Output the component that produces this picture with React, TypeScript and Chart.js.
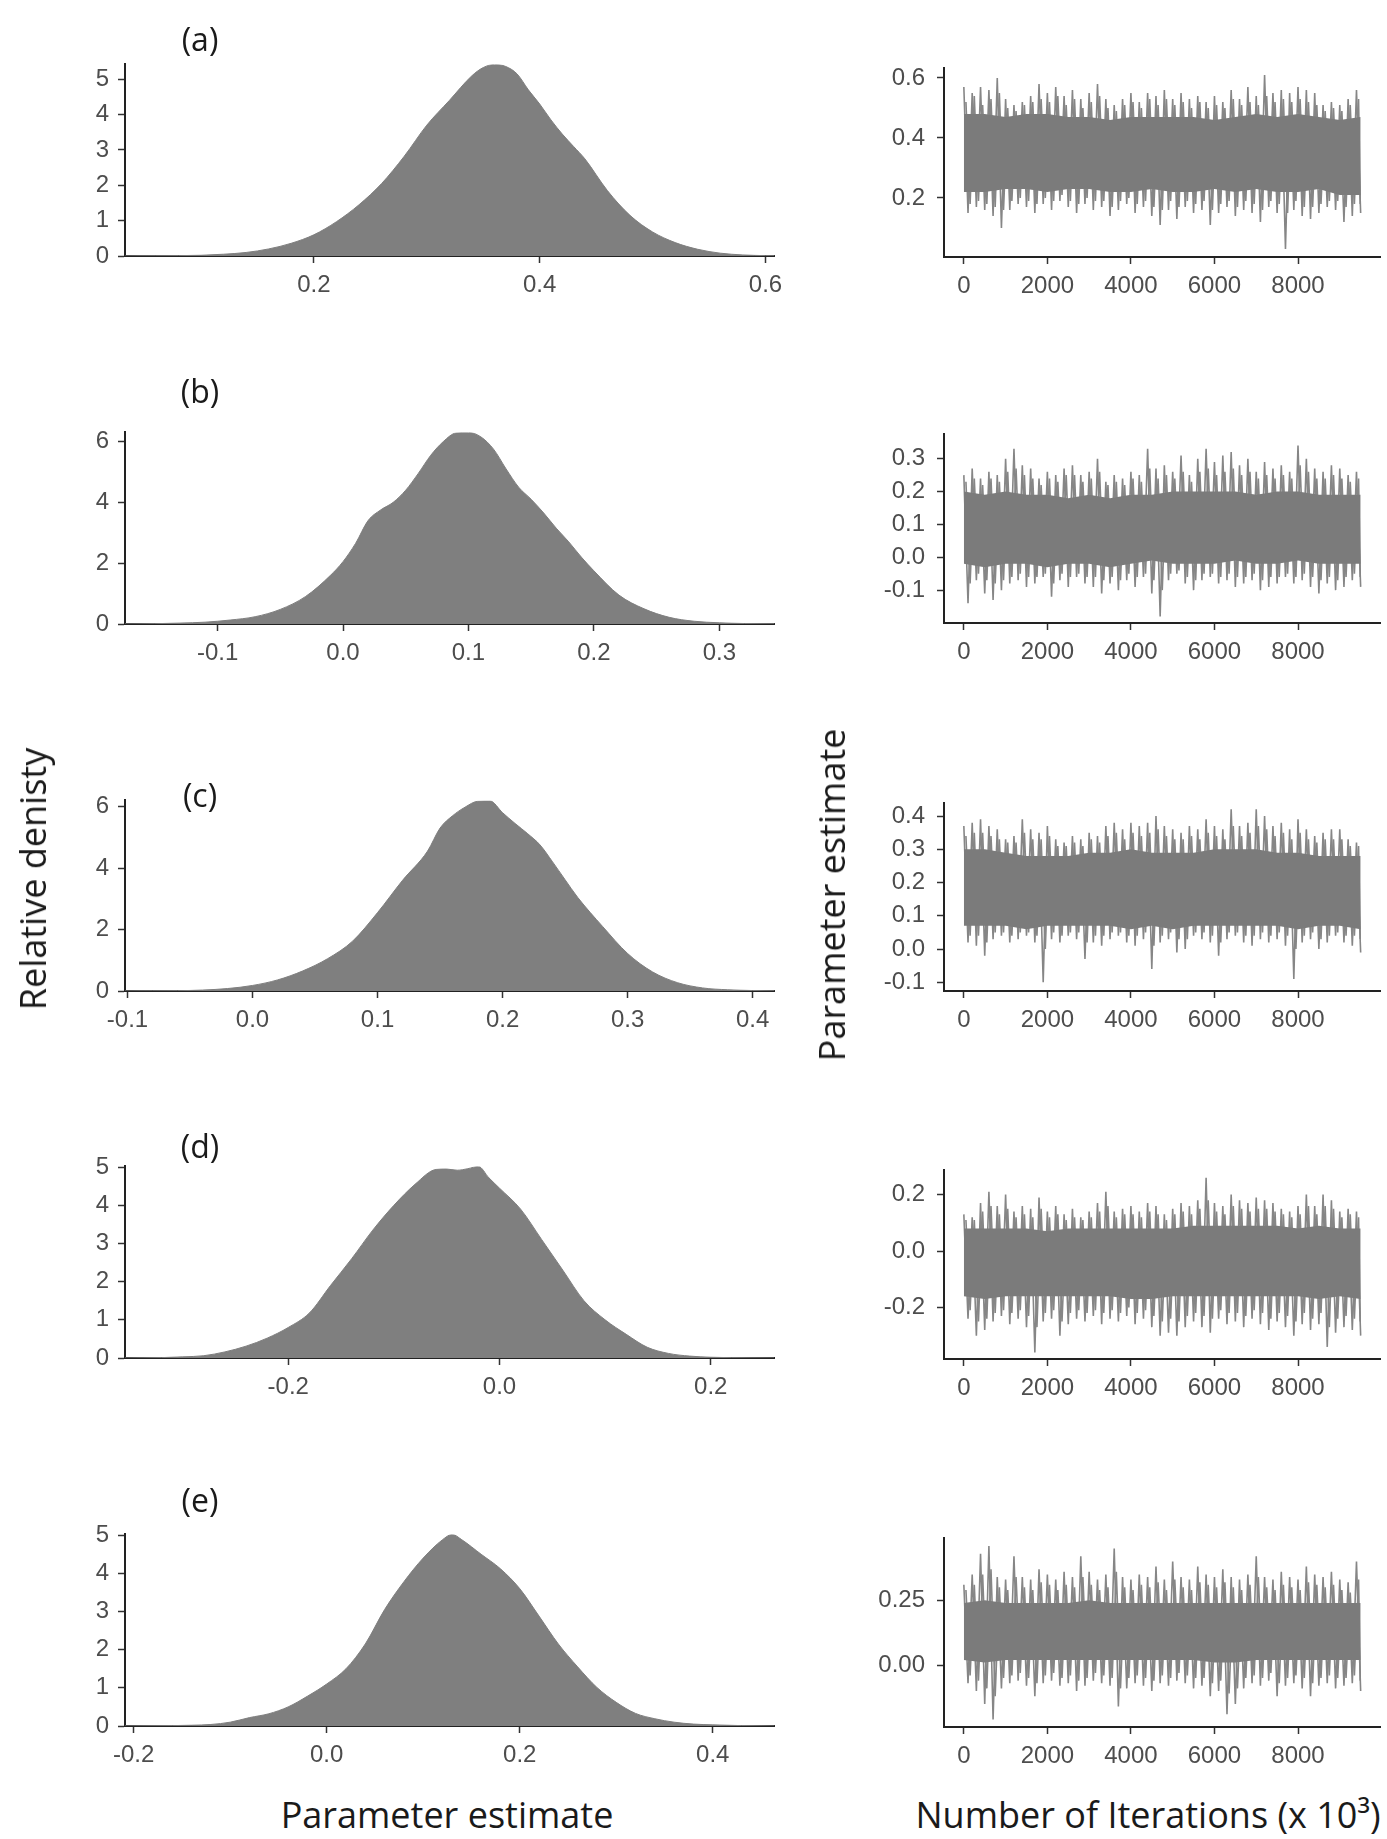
import React, { useEffect, useRef } from 'react';
import { Chart, registerables } from 'chart.js';
Chart.register(...registerables);

// ---------------- Density panels (left column) ----------------
const DENS_A_X = [0.033,0.06,0.08,0.10,0.12,0.14,0.16,0.18,0.20,0.22,0.24,0.26,0.28,0.30,0.32,0.34,0.35,0.36,0.37,0.38,0.39,0.40,0.41,0.42,0.43,0.44,0.46,0.48,0.50,0.52,0.54,0.56,0.58,0.60,0.608];
const DENS_A_Y = [0,0.005,0.01,0.02,0.05,0.1,0.2,0.36,0.6,0.97,1.45,2.05,2.82,3.7,4.4,5.1,5.33,5.42,5.36,5.15,4.7,4.3,3.85,3.45,3.1,2.75,1.85,1.15,0.68,0.38,0.19,0.08,0.03,0.01,0.005];
const DENS_B_X = [-0.174,-0.15,-0.13,-0.11,-0.09,-0.07,-0.05,-0.03,-0.01,0.0,0.01,0.02,0.03,0.04,0.05,0.06,0.07,0.08,0.09,0.10,0.11,0.12,0.13,0.14,0.15,0.16,0.17,0.18,0.19,0.20,0.22,0.24,0.26,0.28,0.30,0.32,0.344];
const DENS_B_Y = [0,0.01,0.03,0.06,0.13,0.24,0.48,0.9,1.6,2.05,2.65,3.4,3.75,4.0,4.4,4.95,5.55,6.0,6.28,6.3,6.15,5.75,5.1,4.5,4.1,3.65,3.15,2.7,2.2,1.75,0.95,0.5,0.22,0.09,0.04,0.015,0.005];
const DENS_C_X = [-0.102,-0.08,-0.06,-0.04,-0.02,0.0,0.02,0.04,0.06,0.08,0.10,0.12,0.14,0.15,0.16,0.17,0.18,0.19,0.20,0.21,0.22,0.23,0.24,0.25,0.26,0.28,0.30,0.32,0.34,0.36,0.38,0.40,0.4175];
const DENS_C_Y = [0,0.005,0.01,0.03,0.08,0.18,0.36,0.65,1.05,1.62,2.55,3.6,4.55,5.3,5.7,5.98,6.17,6.18,5.8,5.45,5.12,4.75,4.2,3.62,3.05,2.1,1.22,0.62,0.27,0.1,0.04,0.015,0.005];
const DENS_D_X = [-0.355,-0.32,-0.30,-0.28,-0.26,-0.24,-0.22,-0.20,-0.18,-0.16,-0.14,-0.12,-0.10,-0.08,-0.06,-0.05,-0.04,-0.03,-0.02,-0.01,0.0,0.02,0.04,0.06,0.08,0.10,0.12,0.14,0.16,0.18,0.20,0.22,0.26];
const DENS_D_Y = [0,0.01,0.03,0.06,0.16,0.31,0.52,0.8,1.18,1.9,2.6,3.35,4.0,4.55,4.94,4.95,4.92,4.96,5.02,4.72,4.45,3.9,3.1,2.3,1.5,1.0,0.62,0.28,0.12,0.05,0.02,0.008,0];
const DENS_E_X = [-0.209,-0.16,-0.14,-0.12,-0.10,-0.08,-0.06,-0.04,-0.02,0.0,0.02,0.04,0.06,0.08,0.10,0.12,0.13,0.14,0.16,0.18,0.20,0.22,0.24,0.26,0.28,0.30,0.32,0.34,0.36,0.38,0.40,0.43,0.464];
const DENS_E_Y = [0,0.01,0.02,0.04,0.1,0.22,0.32,0.5,0.78,1.1,1.5,2.15,3.05,3.78,4.4,4.88,5.02,4.88,4.5,4.12,3.6,2.88,2.15,1.55,1.01,0.62,0.33,0.19,0.1,0.05,0.03,0.01,0];

const DENS_A_XTICKS = [0.2,0.4,0.6];
const DENS_B_XTICKS = [-0.1,0.0,0.1,0.2,0.3];
const DENS_C_XTICKS = [-0.1,0.0,0.1,0.2,0.3,0.4];
const DENS_D_XTICKS = [-0.2,0.0,0.2];
const DENS_E_XTICKS = [-0.2,0.0,0.2,0.4];
const DENS_A_YTICKS = [0,1,2,3,4,5];
const DENS_B_YTICKS = [0,2,4,6];
const DENS_C_YTICKS = [0,2,4,6];
const DENS_D_YTICKS = [0,1,2,3,4,5];
const DENS_E_YTICKS = [0,1,2,3,4,5];

// ---------------- Trace panels (right column) ----------------
const TRACE_ITER_HI = [0,200,400,600,800,1000,1200,1400,1600,1800,2000,2200,2400,2600,2800,3000,3200,3400,3600,3800,4000,4200,4400,4600,4800,5000,5200,5400,5600,5800,6000,6200,6400,6600,6800,7000,7200,7400,7600,7800,8000,8200,8400,8600,8800,9000,9200,9400];
const TRACE_ITER_LO = [100,300,500,700,900,1100,1300,1500,1700,1900,2100,2300,2500,2700,2900,3100,3300,3500,3700,3900,4100,4300,4500,4700,4900,5100,5300,5500,5700,5900,6100,6300,6500,6700,6900,7100,7300,7500,7700,7900,8100,8300,8500,8700,8900,9100,9300,9500];
const TRACE_ITER_HI2 = [50,250,450,650,850,1050,1250,1450,1650,1850,2050,2250,2450,2650,2850,3050,3250,3450,3650,3850,4050,4250,4450,4650,4850,5050,5250,5450,5650,5850,6050,6250,6450,6650,6850,7050,7250,7450,7650,7850,8050,8250,8450,8650,8850,9050,9250,9450];
const TRACE_ITER_LO2 = [150,350,550,750,950,1150,1350,1550,1750,1950,2150,2350,2550,2750,2950,3150,3350,3550,3750,3950,4150,4350,4550,4750,4950,5150,5350,5550,5750,5950,6150,6350,6550,6750,6950,7150,7350,7550,7750,7950,8150,8350,8550,8750,8950,9150,9350,9490];
const CORE_ITER = [0,500,1000,1500,2000,2500,3000,3500,4000,4500,5000,5500,6000,6500,7000,7500,8000,8500,9000,9500];

const TRACE_A_HI = [0.57,0.55,0.57,0.56,0.60,0.53,0.51,0.52,0.54,0.58,0.55,0.57,0.54,0.56,0.53,0.55,0.58,0.53,0.51,0.53,0.55,0.52,0.55,0.54,0.56,0.53,0.55,0.53,0.54,0.52,0.54,0.52,0.56,0.53,0.57,0.54,0.61,0.55,0.56,0.55,0.57,0.56,0.55,0.51,0.52,0.51,0.53,0.56];
const TRACE_A_LO = [0.15,0.17,0.16,0.14,0.10,0.16,0.18,0.17,0.15,0.18,0.16,0.19,0.17,0.15,0.18,0.16,0.17,0.14,0.16,0.18,0.15,0.17,0.14,0.11,0.16,0.13,0.17,0.15,0.16,0.11,0.15,0.17,0.14,0.16,0.15,0.12,0.17,0.15,0.03,0.16,0.14,0.13,0.15,0.17,0.16,0.12,0.14,0.15];
const TRACE_A_HI2 = [0.52,0.54,0.51,0.53,0.55,0.50,0.49,0.51,0.52,0.53,0.52,0.54,0.51,0.53,0.50,0.52,0.54,0.50,0.49,0.51,0.52,0.50,0.53,0.51,0.53,0.51,0.52,0.50,0.52,0.50,0.51,0.50,0.53,0.51,0.52,0.51,0.54,0.52,0.53,0.52,0.53,0.52,0.51,0.49,0.50,0.49,0.51,0.53];
const TRACE_A_LO2 = [0.18,0.19,0.18,0.17,0.16,0.19,0.20,0.19,0.18,0.20,0.19,0.21,0.19,0.18,0.20,0.19,0.19,0.17,0.19,0.20,0.18,0.19,0.17,0.16,0.19,0.17,0.19,0.18,0.19,0.16,0.18,0.19,0.17,0.19,0.18,0.16,0.19,0.18,0.15,0.19,0.17,0.17,0.18,0.19,0.19,0.17,0.18,0.18];
const CORE_A_HI = [0.48,0.48,0.47,0.48,0.48,0.47,0.47,0.46,0.47,0.47,0.47,0.47,0.46,0.47,0.48,0.47,0.48,0.47,0.46,0.47];
const CORE_A_LO = [0.22,0.22,0.23,0.23,0.22,0.23,0.23,0.22,0.22,0.23,0.22,0.22,0.23,0.22,0.23,0.22,0.22,0.23,0.21,0.21];

const TRACE_B_HI = [0.25,0.27,0.24,0.26,0.25,0.30,0.33,0.28,0.27,0.24,0.26,0.25,0.27,0.28,0.25,0.26,0.30,0.23,0.25,0.24,0.26,0.25,0.33,0.27,0.28,0.26,0.31,0.25,0.30,0.33,0.29,0.31,0.32,0.28,0.30,0.26,0.29,0.27,0.28,0.26,0.34,0.30,0.27,0.26,0.28,0.27,0.25,0.26];
const TRACE_B_LO = [-0.14,-0.07,-0.11,-0.13,-0.10,-0.08,-0.07,-0.09,-0.08,-0.06,-0.12,-0.07,-0.09,-0.06,-0.08,-0.09,-0.11,-0.08,-0.10,-0.07,-0.09,-0.06,-0.11,-0.18,-0.07,-0.05,-0.08,-0.10,-0.07,-0.06,-0.08,-0.07,-0.09,-0.08,-0.07,-0.10,-0.09,-0.08,-0.06,-0.08,-0.07,-0.09,-0.11,-0.08,-0.10,-0.09,-0.07,-0.09];
const TRACE_B_HI2 = [0.23,0.24,0.22,0.24,0.23,0.26,0.27,0.25,0.24,0.22,0.24,0.23,0.25,0.25,0.23,0.24,0.26,0.22,0.23,0.22,0.24,0.23,0.27,0.24,0.25,0.24,0.26,0.23,0.26,0.27,0.25,0.26,0.27,0.25,0.26,0.24,0.25,0.24,0.25,0.24,0.28,0.26,0.24,0.24,0.25,0.24,0.23,0.24];
const TRACE_B_LO2 = [-0.08,-0.05,-0.07,-0.08,-0.07,-0.06,-0.05,-0.06,-0.06,-0.05,-0.08,-0.05,-0.06,-0.05,-0.06,-0.06,-0.07,-0.06,-0.07,-0.05,-0.06,-0.05,-0.07,-0.10,-0.05,-0.04,-0.06,-0.07,-0.05,-0.05,-0.06,-0.05,-0.06,-0.06,-0.05,-0.07,-0.06,-0.06,-0.05,-0.06,-0.05,-0.06,-0.07,-0.06,-0.07,-0.06,-0.05,-0.06];
const CORE_B_HI = [0.20,0.19,0.20,0.19,0.19,0.18,0.19,0.18,0.19,0.19,0.20,0.20,0.20,0.20,0.19,0.20,0.20,0.19,0.19,0.19];
const CORE_B_LO = [-0.02,-0.03,-0.02,-0.02,-0.03,-0.02,-0.02,-0.03,-0.02,-0.01,-0.02,-0.02,-0.02,-0.01,-0.02,-0.02,-0.01,-0.02,-0.02,-0.02];

const TRACE_C_HI = [0.37,0.38,0.39,0.37,0.36,0.33,0.34,0.39,0.36,0.35,0.37,0.33,0.32,0.34,0.33,0.35,0.34,0.37,0.38,0.36,0.38,0.37,0.38,0.40,0.37,0.36,0.35,0.37,0.36,0.39,0.37,0.36,0.42,0.37,0.38,0.42,0.40,0.37,0.38,0.36,0.39,0.36,0.34,0.35,0.36,0.36,0.33,0.32];
const TRACE_C_LO = [0.02,0.01,-0.02,0.03,0.04,0.02,0.03,0.04,0.02,-0.10,0.03,0.02,0.04,0.03,-0.03,0.02,0.01,0.03,0.04,0.02,0.01,0.03,-0.06,0.02,0.03,-0.01,0.0,0.04,0.03,0.02,-0.02,0.03,0.04,0.02,0.01,0.03,0.02,0.03,0.01,-0.09,0.02,0.03,0.0,0.02,0.04,0.02,0.01,-0.01];
const TRACE_C_HI2 = [0.34,0.35,0.35,0.34,0.33,0.32,0.32,0.35,0.33,0.33,0.34,0.31,0.31,0.32,0.31,0.33,0.32,0.34,0.35,0.33,0.35,0.34,0.35,0.36,0.34,0.33,0.33,0.34,0.33,0.35,0.34,0.33,0.37,0.34,0.35,0.37,0.36,0.34,0.35,0.33,0.35,0.33,0.32,0.33,0.33,0.33,0.31,0.31];
const TRACE_C_LO2 = [0.04,0.04,0.02,0.05,0.05,0.04,0.05,0.05,0.04,0.0,0.05,0.04,0.05,0.05,0.02,0.04,0.04,0.05,0.05,0.04,0.04,0.05,0.01,0.04,0.05,0.03,0.03,0.05,0.05,0.04,0.02,0.05,0.05,0.04,0.04,0.05,0.04,0.05,0.04,0.0,0.04,0.05,0.03,0.04,0.05,0.04,0.04,0.03];
const CORE_C_HI = [0.30,0.30,0.29,0.28,0.28,0.28,0.29,0.29,0.30,0.29,0.29,0.29,0.30,0.30,0.30,0.29,0.29,0.28,0.28,0.28];
const CORE_C_LO = [0.07,0.07,0.07,0.06,0.07,0.07,0.07,0.07,0.06,0.07,0.06,0.07,0.07,0.07,0.07,0.07,0.06,0.07,0.07,0.06];

const TRACE_D_HI = [0.13,0.12,0.17,0.21,0.16,0.20,0.14,0.16,0.15,0.19,0.14,0.16,0.13,0.15,0.12,0.14,0.17,0.21,0.14,0.15,0.16,0.14,0.17,0.16,0.13,0.15,0.17,0.16,0.18,0.26,0.17,0.16,0.20,0.18,0.17,0.19,0.18,0.17,0.15,0.14,0.16,0.20,0.16,0.20,0.18,0.14,0.15,0.14];
const TRACE_D_LO = [-0.24,-0.30,-0.28,-0.25,-0.23,-0.26,-0.24,-0.27,-0.36,-0.25,-0.24,-0.30,-0.26,-0.24,-0.25,-0.23,-0.26,-0.24,-0.25,-0.23,-0.26,-0.24,-0.27,-0.30,-0.29,-0.30,-0.27,-0.25,-0.27,-0.29,-0.24,-0.26,-0.25,-0.27,-0.24,-0.26,-0.28,-0.25,-0.27,-0.30,-0.26,-0.28,-0.26,-0.34,-0.29,-0.27,-0.28,-0.30];
const TRACE_D_HI2 = [0.11,0.11,0.14,0.16,0.13,0.15,0.12,0.13,0.12,0.15,0.12,0.13,0.11,0.12,0.11,0.12,0.14,0.16,0.12,0.13,0.13,0.12,0.14,0.13,0.11,0.13,0.14,0.13,0.15,0.18,0.14,0.13,0.16,0.15,0.14,0.15,0.15,0.14,0.13,0.12,0.13,0.16,0.13,0.16,0.15,0.12,0.13,0.12];
const TRACE_D_LO2 = [-0.21,-0.25,-0.24,-0.22,-0.21,-0.22,-0.21,-0.23,-0.27,-0.22,-0.21,-0.25,-0.22,-0.21,-0.22,-0.21,-0.22,-0.21,-0.22,-0.20,-0.22,-0.21,-0.23,-0.25,-0.24,-0.25,-0.23,-0.22,-0.23,-0.24,-0.21,-0.22,-0.22,-0.23,-0.21,-0.22,-0.24,-0.22,-0.23,-0.25,-0.22,-0.24,-0.22,-0.27,-0.24,-0.23,-0.24,-0.25];
const CORE_D_HI = [0.08,0.08,0.08,0.08,0.07,0.08,0.08,0.08,0.08,0.08,0.08,0.09,0.09,0.09,0.09,0.09,0.08,0.09,0.08,0.08];
const CORE_D_LO = [-0.16,-0.17,-0.16,-0.16,-0.16,-0.16,-0.16,-0.16,-0.17,-0.17,-0.16,-0.16,-0.16,-0.16,-0.16,-0.16,-0.16,-0.17,-0.16,-0.17];

const TRACE_E_HI = [0.31,0.35,0.43,0.46,0.34,0.33,0.42,0.34,0.33,0.37,0.35,0.33,0.36,0.34,0.42,0.36,0.33,0.35,0.45,0.34,0.33,0.35,0.34,0.38,0.33,0.40,0.34,0.33,0.38,0.35,0.34,0.37,0.34,0.33,0.35,0.42,0.34,0.33,0.36,0.34,0.33,0.38,0.35,0.34,0.36,0.33,0.32,0.40];
const TRACE_E_LO = [-0.07,-0.10,-0.15,-0.21,-0.09,-0.07,-0.06,-0.08,-0.12,-0.07,-0.06,-0.08,-0.07,-0.10,-0.08,-0.06,-0.07,-0.08,-0.16,-0.09,-0.07,-0.08,-0.10,-0.07,-0.08,-0.06,-0.07,-0.09,-0.08,-0.12,-0.10,-0.19,-0.15,-0.09,-0.07,-0.08,-0.06,-0.12,-0.08,-0.07,-0.09,-0.12,-0.08,-0.07,-0.09,-0.08,-0.07,-0.10];
const TRACE_E_HI2 = [0.29,0.31,0.35,0.37,0.30,0.29,0.34,0.30,0.29,0.32,0.31,0.29,0.31,0.30,0.34,0.31,0.29,0.30,0.36,0.30,0.29,0.31,0.30,0.32,0.29,0.33,0.30,0.29,0.32,0.31,0.30,0.32,0.30,0.29,0.31,0.34,0.30,0.29,0.31,0.30,0.29,0.32,0.31,0.30,0.31,0.29,0.28,0.33];
const TRACE_E_LO2 = [-0.04,-0.06,-0.09,-0.12,-0.05,-0.04,-0.03,-0.05,-0.07,-0.04,-0.03,-0.05,-0.04,-0.06,-0.05,-0.03,-0.04,-0.05,-0.09,-0.05,-0.04,-0.05,-0.06,-0.04,-0.05,-0.03,-0.04,-0.05,-0.05,-0.07,-0.06,-0.11,-0.09,-0.05,-0.04,-0.05,-0.03,-0.07,-0.05,-0.04,-0.05,-0.07,-0.05,-0.04,-0.05,-0.05,-0.04,-0.06];
const CORE_E_HI = [0.24,0.25,0.24,0.24,0.24,0.24,0.25,0.24,0.24,0.24,0.24,0.24,0.24,0.24,0.24,0.24,0.24,0.24,0.24,0.24];
const CORE_E_LO = [0.02,0.01,0.02,0.02,0.02,0.02,0.02,0.02,0.02,0.02,0.02,0.02,0.01,0.01,0.02,0.02,0.02,0.02,0.02,0.02];

const TRACE_XTICKS = [0,2000,4000,6000,8000];
const TRACE_A_YTICKS = [0.2,0.4,0.6];
const TRACE_B_YTICKS = [-0.1,0.0,0.1,0.2,0.3];
const TRACE_C_YTICKS = [-0.1,0.0,0.1,0.2,0.3,0.4];
const TRACE_D_YTICKS = [-0.2,0.0,0.2];
const TRACE_E_YTICKS = [0.0,0.25];

// ---------------- styling ----------------
const FILL = '#7f7f7f';
const CORE = '#7b7b7b';
const TRACE = '#868686';
const TICK_FONT = { family: "'Liberation Sans', Arial, sans-serif", size: 24 };
const TICK_COLOR = '#4d4d4d';
const TITLE_FONT = "'Open Sans', 'Noto Sans', sans-serif";
const PAD_TOP = 20;
const X_AXIS_H = 60;

function axis(kind: 'x' | 'y', min: number, max: number, ticks: number[], dec: number, pad: number, size: number) {
  return {
    type: 'linear',
    min,
    max,
    afterBuildTicks: (s: any) => { s.ticks = ticks.map((v) => ({ value: v })); },
    afterFit: (s: any) => { if (kind === 'x') s.height = size; else s.width = size; },
    ticks: {
      callback: (v: any) => Number(v).toFixed(dec),
      font: TICK_FONT,
      color: TICK_COLOR,
      padding: pad,
      maxRotation: 0,
      minRotation: 0,
      autoSkip: false,
    },
    grid: { drawOnChartArea: false, drawTicks: true, tickLength: 7, tickWidth: 1.5, tickColor: '#333', color: '#333' },
    border: { display: true, color: '#222', width: 2 },
  };
}

function densityConfig(xs: number[], ys: number[], xmin: number, xmax: number, xt: number[], ymax: number, yt: number[]) {
  return {
    type: 'line',
    data: {
      datasets: [{
        data: xs.map((x, i) => ({ x, y: ys[i] })),
        fill: 'origin',
        backgroundColor: FILL,
        borderColor: FILL,
        borderWidth: 1,
        pointRadius: 0,
        cubicInterpolationMode: 'monotone',
      }],
    },
    options: {
      animation: false,
      responsive: false,
      events: [],
      layout: { padding: { top: PAD_TOP, right: 25.5, left: 0, bottom: 0 } },
      plugins: { legend: { display: false }, tooltip: { enabled: false } },
      scales: {
        x: axis('x', xmin, xmax, xt, 1, 8, X_AXIS_H),
        y: axis('y', 0, ymax, yt, 0, 9, 125),
      },
    },
  };
}

function zigzag(hiIter: number[], hi: number[], loIter: number[], lo: number[]) {
  const pts: { x: number; y: number }[] = [];
  hiIter.forEach((it, i) => {
    pts.push({ x: it, y: hi[i] });
    pts.push({ x: loIter[i], y: lo[i] });
  });
  return pts;
}

function traceConfig(hi: number[], lo: number[], hi2: number[], lo2: number[], coreHi: number[], coreLo: number[], ymin: number, ymax: number, yt: number[], ydec: number) {
  const lineDs = (data: any) => ({ data, borderColor: TRACE, borderWidth: 1.6, pointRadius: 0, fill: false, tension: 0 });
  return {
    type: 'line',
    data: {
      datasets: [
        { data: CORE_ITER.map((x, i) => ({ x, y: coreHi[i] })), borderColor: 'rgba(0,0,0,0)', borderWidth: 0, pointRadius: 0, fill: false },
        { data: CORE_ITER.map((x, i) => ({ x, y: coreLo[i] })), borderColor: 'rgba(0,0,0,0)', borderWidth: 0, pointRadius: 0, fill: '-1', backgroundColor: CORE },
        lineDs(zigzag(TRACE_ITER_HI2, hi2, TRACE_ITER_LO2, lo2)),
        lineDs(zigzag(TRACE_ITER_HI, hi, TRACE_ITER_LO, lo)),
      ],
    },
    options: {
      animation: false,
      responsive: false,
      events: [],
      layout: { padding: { top: PAD_TOP, right: 6.5, left: 0, bottom: 0 } },
      plugins: { legend: { display: false }, tooltip: { enabled: false } },
      scales: {
        x: axis('x', -475, 9975, TRACE_XTICKS, 0, 8, X_AXIS_H),
        y: axis('y', ymin, ymax, yt, ydec, 12, 144),
      },
    },
  };
}

function ChartBox({ left, top, width, height, make }: { left: number; top: number; width: number; height: number; make: () => any }) {
  const ref = useRef<HTMLCanvasElement>(null);
  useEffect(() => {
    const chart = new Chart(ref.current as HTMLCanvasElement, make());
    return () => chart.destroy();
  }, []);
  return (
    <canvas
      ref={ref}
      width={width}
      height={height}
      style={{ position: 'absolute', left, top, width, height }}
    />
  );
}

const LEFT_ROWS = [[61, 256], [429, 624], [797, 991], [1163, 1358], [1531, 1726]];
const RIGHT_ROWS = [[62, 257], [428, 623], [797, 991], [1164, 1359], [1532, 1727]];
const PANEL_LABELS = ['(a)', '(b)', '(c)', '(d)', '(e)'];
const PANEL_LABEL_Y = [39, 391, 795, 1146, 1500];

const LEFT_MAKERS = [
  () => densityConfig(DENS_A_X, DENS_A_Y, 0.0327, 0.608, DENS_A_XTICKS, 5.42, DENS_A_YTICKS),
  () => densityConfig(DENS_B_X, DENS_B_Y, -0.1738, 0.344, DENS_B_XTICKS, 6.3, DENS_B_YTICKS),
  () => densityConfig(DENS_C_X, DENS_C_Y, -0.102, 0.4175, DENS_C_XTICKS, 6.2, DENS_C_YTICKS),
  () => densityConfig(DENS_D_X, DENS_D_Y, -0.3546, 0.2604, DENS_D_XTICKS, 5.02, DENS_D_YTICKS),
  () => densityConfig(DENS_E_X, DENS_E_Y, -0.209, 0.464, DENS_E_XTICKS, 5.02, DENS_E_YTICKS),
];
const RIGHT_MAKERS = [
  () => traceConfig(TRACE_A_HI, TRACE_A_LO, TRACE_A_HI2, TRACE_A_LO2, CORE_A_HI, CORE_A_LO, 0.003, 0.632, TRACE_A_YTICKS, 1),
  () => traceConfig(TRACE_B_HI, TRACE_B_LO, TRACE_B_HI2, TRACE_B_LO2, CORE_B_HI, CORE_B_LO, -0.2, 0.374, TRACE_B_YTICKS, 1),
  () => traceConfig(TRACE_C_HI, TRACE_C_LO, TRACE_C_HI2, TRACE_C_LO2, CORE_C_HI, CORE_C_LO, -0.126, 0.438, TRACE_C_YTICKS, 1),
  () => traceConfig(TRACE_D_HI, TRACE_D_LO, TRACE_D_HI2, TRACE_D_LO2, CORE_D_HI, CORE_D_LO, -0.383, 0.286, TRACE_D_YTICKS, 1),
  () => traceConfig(TRACE_E_HI, TRACE_E_LO, TRACE_E_HI2, TRACE_E_LO2, CORE_E_HI, CORE_E_LO, -0.239, 0.489, TRACE_E_YTICKS, 2),
];

const centered = (x: number, y: number, extra: any = {}) => ({
  position: 'absolute' as const,
  left: x,
  top: y,
  transform: 'translate(-50%, -50%)' + (extra.rotate ? ' rotate(-90deg)' : ''),
  whiteSpace: 'nowrap' as const,
  fontFamily: TITLE_FONT,
  color: '#1a1a1a',
  lineHeight: 1,
  ...extra.style,
});

export default function App() {
  return (
    <div style={{ position: 'absolute', left: 0, top: 0, width: 1387, height: 1839, background: '#ffffff', overflow: 'hidden' }}>
      {LEFT_ROWS.map(([t, b], i) => (
        <ChartBox key={'l' + i} left={0} top={t - PAD_TOP} width={800} height={b - t + PAD_TOP + X_AXIS_H} make={LEFT_MAKERS[i]} />
      ))}
      {RIGHT_ROWS.map(([t, b], i) => (
        <ChartBox key={'r' + i} left={800} top={t - PAD_TOP} width={587} height={b - t + PAD_TOP + X_AXIS_H} make={RIGHT_MAKERS[i]} />
      ))}
      {PANEL_LABELS.map((lab, i) => (
        <div key={lab} style={centered(200, PANEL_LABEL_Y[i], { style: { fontSize: 32 } })}>{lab}</div>
      ))}
      <div style={centered(33, 879, { rotate: true, style: { fontSize: 36 } })}>Relative denisty</div>
      <div style={centered(832, 895, { rotate: true, style: { fontSize: 36 } })}>Parameter estimate</div>
      <div style={centered(447, 1815, { style: { fontSize: 36 } })}>Parameter estimate</div>
      <div style={centered(1148, 1815, { style: { fontSize: 36 } })}>Number of Iterations (x 10³)</div>
    </div>
  );
}
